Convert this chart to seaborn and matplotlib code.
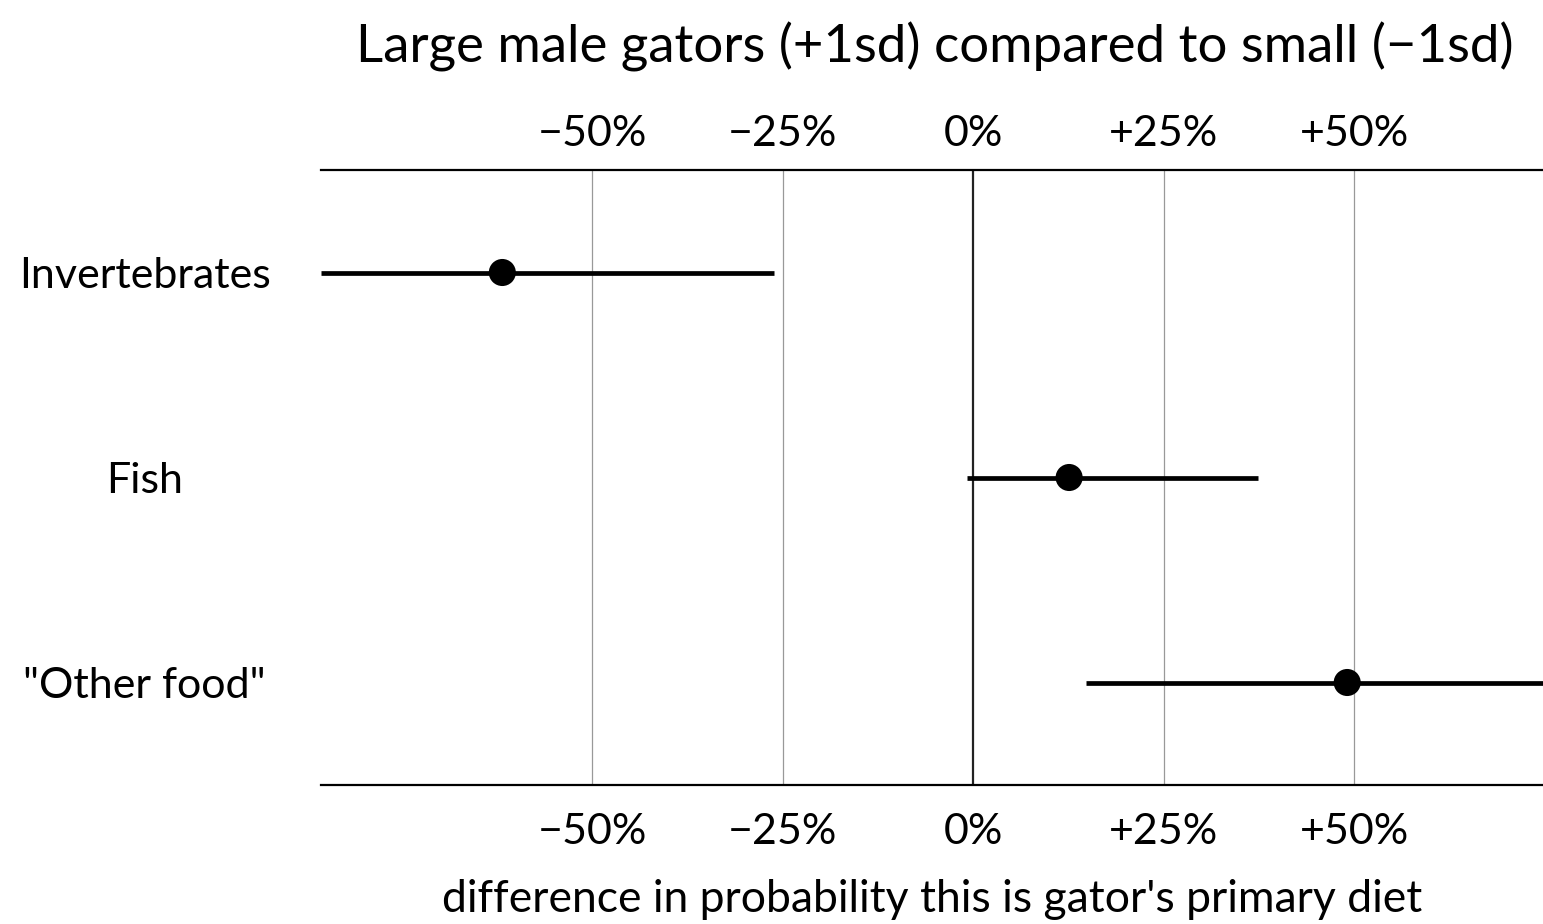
import matplotlib
matplotlib.use("Agg")
import matplotlib.pyplot as plt
import seaborn as sns
import pandas as pd

# Diet categories and estimated change in probability (large vs small males)
categories = ["Invertebrates", "Fish", "\"Other food\""]
estimate = [-0.618, 0.126, 0.491]
lower = [-0.856, -0.008, 0.148]
upper = [-0.262, 0.374, 0.748]

tick_values = [-0.50, -0.25, 0.0, 0.25, 0.50]
tick_labels = ["\u221250%", "\u221225%", "0%", "+25%", "+50%"]

sns.set_theme(style="white")
plt.rcParams["font.family"] = ["Lato", "DejaVu Sans"]
plt.rcParams["text.color"] = "black"
plt.rcParams["axes.labelcolor"] = "black"
plt.rcParams["xtick.color"] = "black"
plt.rcParams["ytick.color"] = "black"

df = pd.DataFrame({"category": categories, "estimate": estimate,
                   "lower": lower, "upper": upper})

fig = plt.figure(figsize=(15.43, 9.24), dpi=100)
ax = fig.add_axes([321 / 1543, 1 - 785 / 924, 1 - 321 / 1543, (785 - 170) / 924])

# reference lines
for v in tick_values:
    if v == 0:
        ax.axvline(v, color="#222222", lw=1.6, zorder=1)
    else:
        ax.axvline(v, color="#999999", lw=0.9, zorder=1)

ypos = list(range(len(categories)))
ax.hlines(ypos, df["lower"], df["upper"], color="black", lw=3.4, zorder=2)
sns.scatterplot(data=df.assign(y=ypos), x="estimate", y="y", ax=ax,
                color="black", s=380, edgecolor="none", zorder=3, legend=False)

ax.set_xlim(-0.856, 0.748)
ax.set_ylim(2.5, -0.5)
ax.set_yticks(ypos)
ax.set_yticklabels(categories, ha="center")
ax.set_xticks(tick_values)
ax.set_xticklabels(tick_labels)
ax.tick_params(axis="y", length=0, pad=127, labelsize=31)
ax.tick_params(axis="x", length=0, pad=20, labelsize=31,
               top=False, labeltop=False, bottom=True, labelbottom=True)

# same percentage scale repeated above the panel
top = ax.secondary_xaxis("top")
top.set_xticks(tick_values)
top.set_xticklabels(tick_labels)
top.tick_params(axis="x", length=0, pad=12, labelsize=31)
top.spines["top"].set_visible(False)

for side in ["left", "right"]:
    ax.spines[side].set_visible(False)
for side in ["top", "bottom"]:
    ax.spines[side].set_visible(True)
    ax.spines[side].set_color("black")
    ax.spines[side].set_linewidth(1.6)

ax.set_xlabel("difference in probability this is gator's primary diet",
              fontsize=32, labelpad=20)
ax.set_ylabel("")
fig.text(0.606, 1 - 47 / 924, "Large male gators (+1sd) compared to small (\u22121sd)",
         ha="center", va="center", fontsize=38)

fig.savefig("out.png", dpi=100)
